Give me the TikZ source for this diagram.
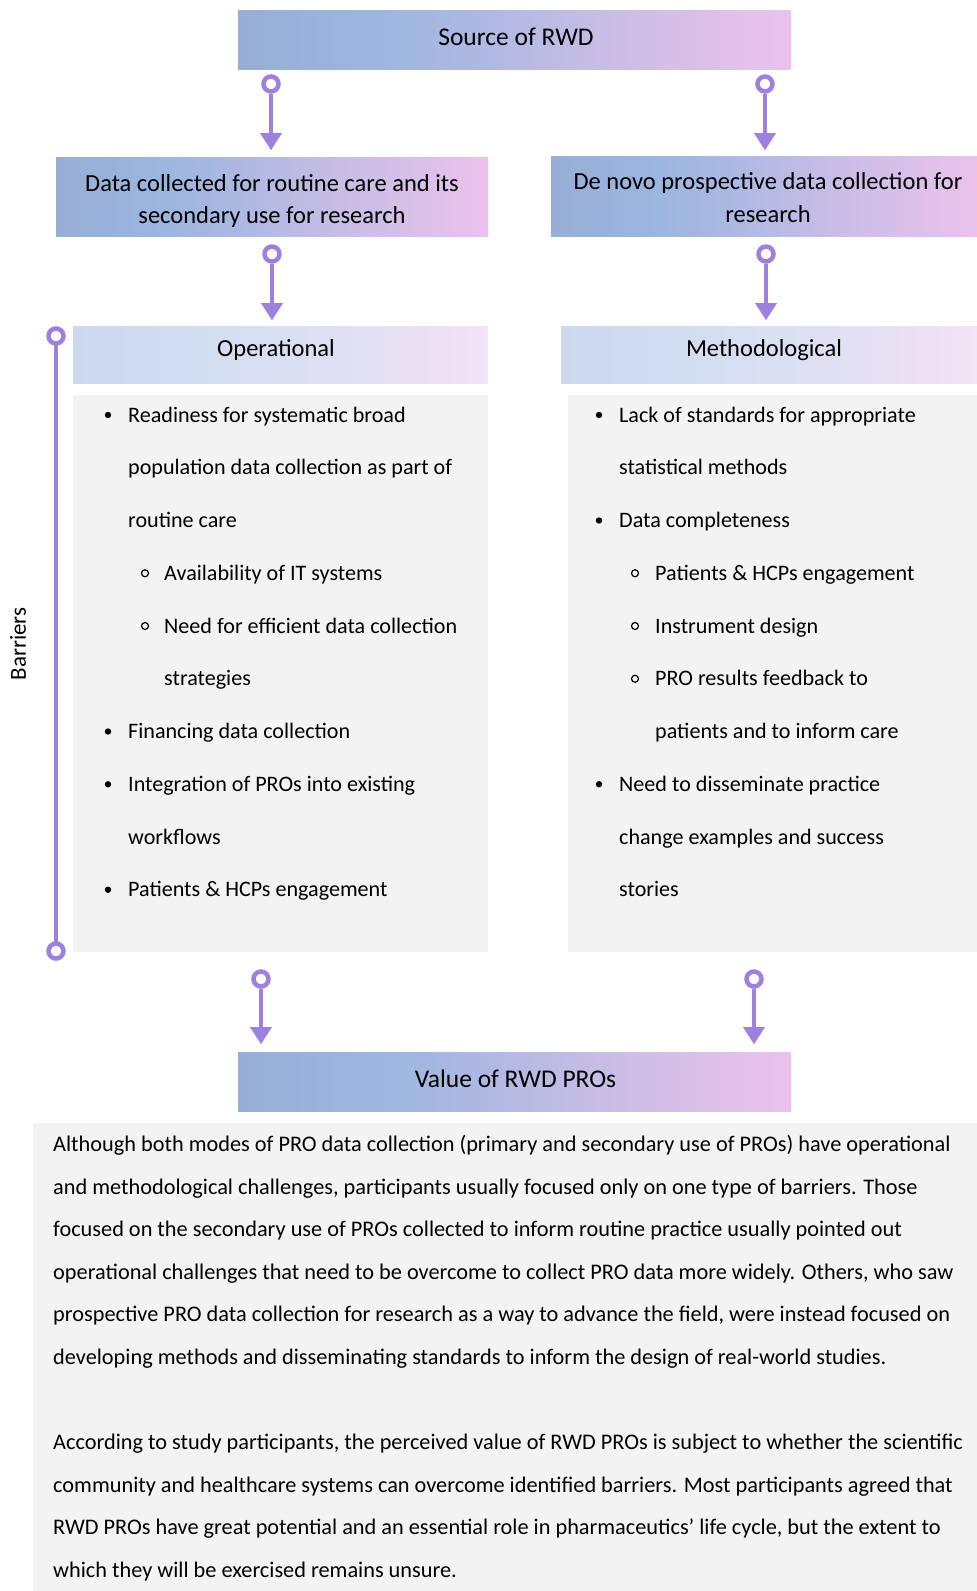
\documentclass[tikz,border=0pt]{standalone}
\usepackage{fontspec}
\setmainfont{Carlito}
\usetikzlibrary{arrows.meta,shadings}
\definecolor{arrowc}{RGB}{158,128,222}
\definecolor{grayb}{RGB}{243,243,243}
\pgfdeclarehorizontalshading{strongfade}{100bp}{rgb(0bp)=(0.596,0.682,0.839); rgb(25bp)=(0.596,0.682,0.839); rgb(37.5bp)=(0.608,0.714,0.875); rgb(47.5bp)=(0.69,0.725,0.89); rgb(57.5bp)=(0.78,0.74,0.90); rgb(75bp)=(0.918,0.761,0.925); rgb(100bp)=(0.918,0.761,0.925)}
\pgfdeclarehorizontalshading{lightfade}{100bp}{rgb(0bp)=(0.804,0.847,0.925); rgb(25bp)=(0.804,0.847,0.925); rgb(37.5bp)=(0.816,0.867,0.941); rgb(55bp)=(0.87,0.875,0.95); rgb(75bp)=(0.949,0.890,0.961); rgb(100bp)=(0.949,0.890,0.961)}
\newcommand{\fhead}{\fontsize{24.5}{32.4}\selectfont}
\newcommand{\fbig}{\fontsize{25.5}{32}\selectfont}
\newcommand{\fbody}{\fontsize{22.1}{27}\selectfont}
\newcommand{\fpara}{\fontsize{22.3}{27}\selectfont}
\tikzset{
  strongbox/.style={shading=strongfade, inner sep=0pt, outer sep=0pt},
  lightbox/.style={shading=lightfade, inner sep=0pt, outer sep=0pt},
  htxt/.style={inner sep=0pt, font=\fhead, align=center, text=black},
  graybox/.style={fill=grayb, inner sep=0pt, outer sep=0pt, anchor=north west},
  ring/.style={circle, draw=arrowc, line width=4.5pt, fill=white, minimum size=15pt, inner sep=0pt},
  conn/.style={draw=arrowc, line width=4pt, -{Triangle[width=22pt,length=17pt,line width=0.1pt]}},
  barline/.style={draw=arrowc, line width=4.5pt},
  txt/.style={anchor=base west, inner sep=0pt, font=\fbody},
  ptxt/.style={anchor=base west, inner sep=0pt, font=\fpara},
  dot/.style={fill=black},
  odot/.style={draw=black, line width=1.2pt},
}
\begin{document}
\begin{tikzpicture}[x=1pt,y=-1pt]
\useasboundingbox (0,0) rectangle (977,1591);
% boxes
\node[strongbox, minimum width=553pt, minimum height=59pt] (src) at (514.5,39.5) {};
\node[htxt, font=\fbig] (srct) at (516,36.5) {Source of RWD};
\node[strongbox, minimum width=432pt, minimum height=79pt] (sec) at (272,196.5) {};
\node[htxt] (sect) at (272,201) {Data collected for routine care and its\\secondary use for research};
\node[strongbox, minimum width=426pt, minimum height=80pt] (denovo) at (764,196) {};
\node[htxt] (denovot) at (768,197.5) {De novo prospective data collection for\\research};
\node[lightbox, minimum width=415pt, minimum height=57pt] (oph) at (280.5,354.5) {};
\node[htxt] (opht) at (276,350.4) {Operational};
\node[lightbox, minimum width=416pt, minimum height=57pt] (meh) at (769,354.5) {};
\node[htxt] (meht) at (764,350.4) {Methodological};
\node[graybox, minimum width=415pt, minimum height=557pt] (opb) at (73,395) {};
\node[graybox, minimum width=409pt, minimum height=557pt] (meb) at (568,395) {};
\node[strongbox, minimum width=553pt, minimum height=59pt] (val) at (514.5,1081.5) {};
\node[htxt, font=\fbig] (valt) at (515.5,1078.5) {Value of RWD PROs};
\node[graybox, minimum width=944pt, minimum height=468pt] (parab) at (33,1123) {};
% connectors
\node[ring] (r1) at (271,84) {};   \coordinate (t1) at (271,150);
\node[ring] (r2) at (765,84) {};   \coordinate (t2) at (765,150);
\node[ring] (r3) at (272,254) {};  \coordinate (t3) at (272,320);
\node[ring] (r4) at (766,254) {};  \coordinate (t4) at (766,320);
\node[ring] (r5) at (261,979) {};  \coordinate (t5) at (261,1044);
\node[ring] (r6) at (754,979) {};  \coordinate (t6) at (754,1044);
\foreach \i in {1,...,6} { \draw[conn] (r\i) -- (t\i); }
% barriers bar
\draw[barline] (56,345) -- (56,942);
\node[ring] (b1) at (56,336) {};
\node[ring] (b2) at (56,951) {};
\node[rotate=90, font=\fontsize{23}{27}\selectfont, inner sep=0pt] (barr) at (18,644) {Barriers};
% left column
\fill[dot] (108,415) circle (3.2);
\node[txt] (l0) at (128,422) {Readiness for systematic broad};
\node[txt] (l1) at (128,474.75) {population data collection as part of};
\node[txt] (l2) at (128,527.5) {routine care};
\draw[odot] (145,573.25) circle (3.5);
\node[txt] (l3) at (164,580.25) {Availability of IT systems};
\draw[odot] (145,626) circle (3.5);
\node[txt] (l4) at (164,633) {Need for efficient data collection};
\node[txt] (l5) at (164,685.75) {strategies};
\fill[dot] (108,731.5) circle (3.2);
\node[txt] (l6) at (128,738.5) {Financing data collection};
\fill[dot] (108,784.25) circle (3.2);
\node[txt] (l7) at (128,791.25) {Integration of PROs into existing};
\node[txt] (l8) at (128,844) {workflows};
\fill[dot] (108,889.75) circle (3.2);
\node[txt] (l9) at (128,896.75) {Patients \& HCPs engagement};
% right column
\fill[dot] (599,415) circle (3.2);
\node[txt] (m0) at (619,422) {Lack of standards for appropriate};
\node[txt] (m1) at (619,474.75) {statistical methods};
\fill[dot] (599,520.5) circle (3.2);
\node[txt] (m2) at (619,527.5) {Data completeness};
\draw[odot] (635,573.25) circle (3.5);
\node[txt] (m3) at (655,580.25) {Patients \& HCPs engagement};
\draw[odot] (635,626) circle (3.5);
\node[txt] (m4) at (655,633) {Instrument design};
\draw[odot] (635,678.75) circle (3.5);
\node[txt] (m5) at (655,685.75) {PRO results feedback to};
\node[txt] (m6) at (655,738.5) {patients and to inform care};
\fill[dot] (599,784.25) circle (3.2);
\node[txt] (m7) at (619,791.25) {Need to disseminate practice};
\node[txt] (m8) at (619,844) {change examples and success};
\node[txt] (m9) at (619,896.75) {stories};
% paragraph
\node[ptxt] (p0) at (53,1151.5) {Although both modes of PRO data collection (primary and secondary use of PROs) have operational};
\node[ptxt] (p1) at (53,1194.1) {and methodological challenges, participants usually focused only on one type of barriers. Those};
\node[ptxt] (p2) at (53,1236.7) {focused on the secondary use of PROs collected to inform routine practice usually pointed out};
\node[ptxt] (p3) at (53,1279.3) {operational challenges that need to be overcome to collect PRO data more widely. Others, who saw};
\node[ptxt] (p4) at (53,1321.9) {prospective PRO data collection for research as a way to advance the field, were instead focused on};
\node[ptxt] (p5) at (53,1364.5) {developing methods and disseminating standards to inform the design of real-world studies.};
\node[ptxt] (p6) at (53,1449.7) {According to study participants, the perceived value of RWD PROs is subject to whether the scientific};
\node[ptxt] (p7) at (53,1492.3) {community and healthcare systems can overcome identified barriers. Most participants agreed that};
\node[ptxt] (p8) at (53,1534.9) {RWD PROs have great potential and an essential role in pharmaceutics’ life cycle, but the extent to};
\node[ptxt] (p9) at (53,1577.5) {which they will be exercised remains unsure.};
\end{tikzpicture}
\end{document}
